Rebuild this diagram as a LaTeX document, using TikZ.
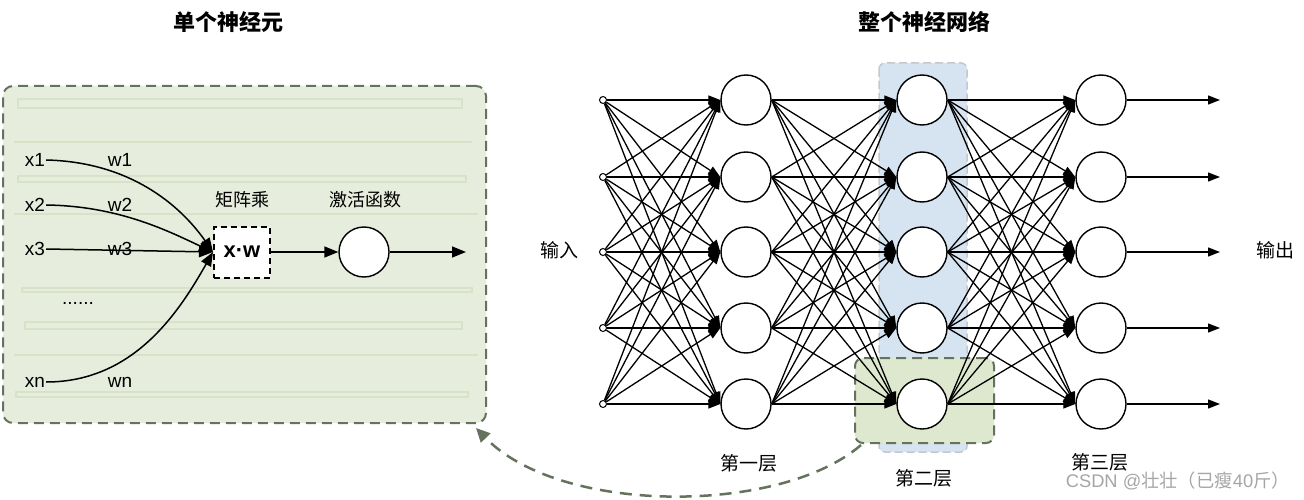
\documentclass[tikz,border=0pt]{standalone}
\usepackage{fontspec}
\setmainfont{Noto Sans CJK SC}
\newfontfamily\lat{Liberation Sans}
\usetikzlibrary{arrows.meta,calc}
\definecolor{panelgreen}{RGB}{230,237,220}
\definecolor{stripegreen}{RGB}{215,226,201}
\definecolor{dashgreen}{RGB}{100,114,94}
\definecolor{colblue}{RGB}{214,227,240}
\definecolor{colblueedge}{RGB}{196,200,206}
\definecolor{boxgreen}{RGB}{222,232,207}
\definecolor{wmgray}{RGB}{165,165,165}
\begin{document}
\begin{tikzpicture}[x=1pt,y=-1pt,
  neuron/.style={circle,draw,line width=1.4pt,minimum size=50pt,inner sep=0pt,fill=white},
  innode/.style={circle,draw,line width=1pt,minimum size=7pt,inner sep=0pt,fill=white},
  conn/.style={line width=1.3pt,-{Triangle[length=12pt,width=9pt]}},
  lconn/.style={line width=1.5pt,-{Triangle[length=14pt,width=11pt]}},
  lbl/.style={font=\fontsize{19}{19}\selectfont,inner sep=1pt},
  llat/.style={font=\lat\fontsize{19}{19}\selectfont,inner sep=1pt},
  ttl/.style={font=\bfseries\fontsize{22}{22}\selectfont},
  gdash/.style={draw=dashgreen,line width=2pt,dash pattern=on 10pt off 6pt},
  stripe/.style={draw=stripegreen,line width=2pt}
]
\useasboundingbox (0,0) rectangle (1304,500);

% titles
\node[ttl] (t1) at (228,22) {单个神经元};
\node[ttl] (t2) at (924,22) {整个神经网络};

% ---------- left panel ----------
\node[gdash,fill=panelgreen,rounded corners=10pt,minimum width=483pt,minimum height=337pt,inner sep=0pt] (panel) at (244.5,254.5) {};
\draw[stripe] (18,99) rectangle (462,108);
\draw[stripe] (14,142) -- (472,142);
\draw[stripe] (18,176) rectangle (466,182);
\draw[stripe] (14,214) -- (478,214);
\draw[stripe] (22,288) rectangle (472,292);
\draw[stripe] (25,322) rectangle (462,329);
\draw[stripe] (14,355) -- (478,355);
\draw[stripe] (16,392) rectangle (468,397);

\node[llat] (x1) at (35,160) {x1};
\node[llat] (x2) at (35,205) {x2};
\node[llat] (x3) at (35,249) {x3};
\node[llat] (xn) at (35,382) {xn};
\node[llat] (dots) at (78,303) {......};
\node[llat] (w1) at (120,160) {w1};
\node[llat] (w2) at (120,205) {w2};
\node[llat] (w3) at (120,249) {w3};
\node[llat] (wn) at (120,382) {wn};

\node[draw,dash pattern=on 6pt off 4pt,line width=2pt,fill=white,minimum width=56pt,minimum height=51pt,inner sep=0pt,font=\lat\bfseries\fontsize{22}{22}\selectfont] (xw) at (242,252) {x·w};
\node[lbl,font=\fontsize{18}{18}\selectfont] (mm) at (242,200) {矩阵乘};
\node[lbl,font=\fontsize{18}{18}\selectfont] (af) at (365,200) {激活函数};
\node[neuron] (act) at (364,252) {};
\coordinate (lout) at (466,252);

\draw[lconn] (x1.east) .. controls (130,162) and (180,205) .. (xw.west);
\draw[lconn] (x2.east) .. controls (120,206) and (170,232) .. (xw.west);
\draw[lconn] (x3.east) -- (xw.west);
\draw[lconn] (xn.east) .. controls (135,382) and (180,310) .. (xw.west);
\draw[lconn] (xw.east) -- (act.west);
\draw[lconn] (act.east) -- (lout);

% ---------- right network ----------
\draw[draw=colblueedge,fill=colblue,line width=1.5pt,dash pattern=on 8pt off 4pt,rounded corners=6pt] (879,63) rectangle (967,452);
\node[gdash,fill=boxgreen,rounded corners=8pt,minimum width=139pt,minimum height=85pt,inner sep=0pt] (gbox) at (924.5,400.5) {};

\foreach \i/\y in {1/100,2/177,3/252,4/328,5/404}{
  \node[innode] (in\i) at (603,\y) {};
  \node[neuron] (a\i) at (746,\y) {};
  \node[neuron] (b\i) at (922,\y) {};
  \node[neuron] (c\i) at (1101,\y) {};
  \coordinate (o\i) at (1220,\y);
}
\foreach \i in {1,...,5}{
  \foreach \j in {1,...,5}{
    \draw[conn] (in\i) -- (a\j.west);
    \draw[conn] (a\i.east) -- (b\j.west);
    \draw[conn] (b\i.east) -- (c\j.west);
  }
  \draw[conn] (c\i) -- (o\i);
}

\node[lbl] (inlbl) at (559,250) {输入};
\node[lbl] (outlbl) at (1275,250) {输出};
\node[lbl] (l1) at (749,463) {第一层};
\node[lbl] (l2) at (924,478) {第二层};
\node[lbl] (l3) at (1100,462) {第三层};

% dashed link
\draw[draw=dashgreen,line width=2.5pt,dash pattern=on 12pt off 8pt,-{Triangle[length=14pt,width=13pt]}]
  ($(gbox.south west)+(7,1)$) .. controls (780,515) and (560,515) .. ($(panel.south east)+(-11,4)$);

% watermark
\node[text=wmgray,anchor=east,inner sep=0pt] (wm) at (1290,481) {\lat\fontsize{18.3}{18.3}\selectfont CSDN @\fontspec{Noto Sans CJK SC}壮壮（已瘦\lat 40\fontspec{Noto Sans CJK SC}斤）};
\end{tikzpicture}
\end{document}
